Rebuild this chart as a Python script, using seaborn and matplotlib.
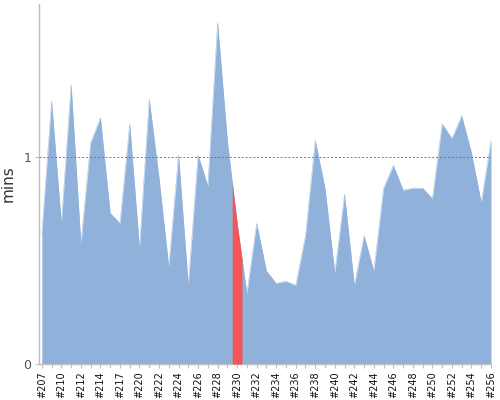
import numpy as np
import pandas as pd
import matplotlib
matplotlib.use("Agg")
import matplotlib.pyplot as plt
import seaborn as sns

# builds / tempos (mins)
builds = [207, 209, 210, 211, 212, 213, 214, 215, 217, 218] + list(range(220, 257))
mins = [0.63, 1.27, 0.68, 1.35, 0.58, 1.07, 1.19, 0.73, 0.68, 1.16,
        0.56, 1.28, 0.90, 0.47, 1.01, 0.38, 1.01, 0.86, 1.65, 1.08,
        0.68, 0.34, 0.68, 0.45, 0.39, 0.40, 0.38, 0.62, 1.08, 0.85,
        0.44, 0.82, 0.38, 0.62, 0.45, 0.85, 0.96, 0.84, 0.85, 0.85,
        0.80, 1.16, 1.09, 1.20, 1.02, 0.78, 1.08]
build_destaque = 230

df = pd.DataFrame({"build": builds, "mins": mins})
df["pos"] = np.arange(len(df))
df["label"] = ["#%d" % b for b in df["build"]]

sns.set_theme(style="white")
plt.rcParams["font.family"] = ["DejaVu Sans"]

fig = plt.figure(figsize=(5, 4), dpi=100)
ax = fig.add_axes([0.077, 0.09, 0.905, 0.9])

azul = "#8fb1da"
vermelho = "#f25656"

ax.fill_between(df["pos"], df["mins"], 0, color=azul, linewidth=0, zorder=2)
sns.lineplot(data=df, x="pos", y="mins", color=azul, linewidth=0.3, ax=ax, zorder=3)

# destaque do build
i = df.index[df["build"] == build_destaque][0]
xs = np.linspace(i - 0.5, i + 0.5, 41)
ys = np.interp(xs, df["pos"], df["mins"])
ax.fill_between(xs, ys, 0, color=vermelho, linewidth=0, zorder=4)

ax.axhline(1, color="#777777", linestyle=(0, (2, 2)), linewidth=0.7, zorder=5)

ax.set_xlim(-0.34, len(df) - 1)
ax.set_ylim(0, 1.74)

ax.set_yticks([0, 1])
ax.set_yticklabels(["0", "1"], fontsize=9, color="#555555")
ax.set_xticks(df["pos"][::2])
ax.set_xticklabels(df["label"][::2], rotation=90, fontsize=7, color="#111111")
ax.set_xticks(df["pos"], minor=True)

ax.set_xlabel("")
ax.set_ylabel("mins", fontsize=11, color="#333333", labelpad=6)

for s in ["top", "right"]:
    ax.spines[s].set_visible(False)
for s in ["left", "bottom"]:
    ax.spines[s].set_color("#c0c0c0")
    ax.spines[s].set_linewidth(1)

ax.tick_params(axis="both", which="both", direction="out", length=3,
               width=0.8, color="#c0c0c0", pad=2, bottom=True, left=True)
ax.grid(False)

fig.savefig("out.png", dpi=100)
